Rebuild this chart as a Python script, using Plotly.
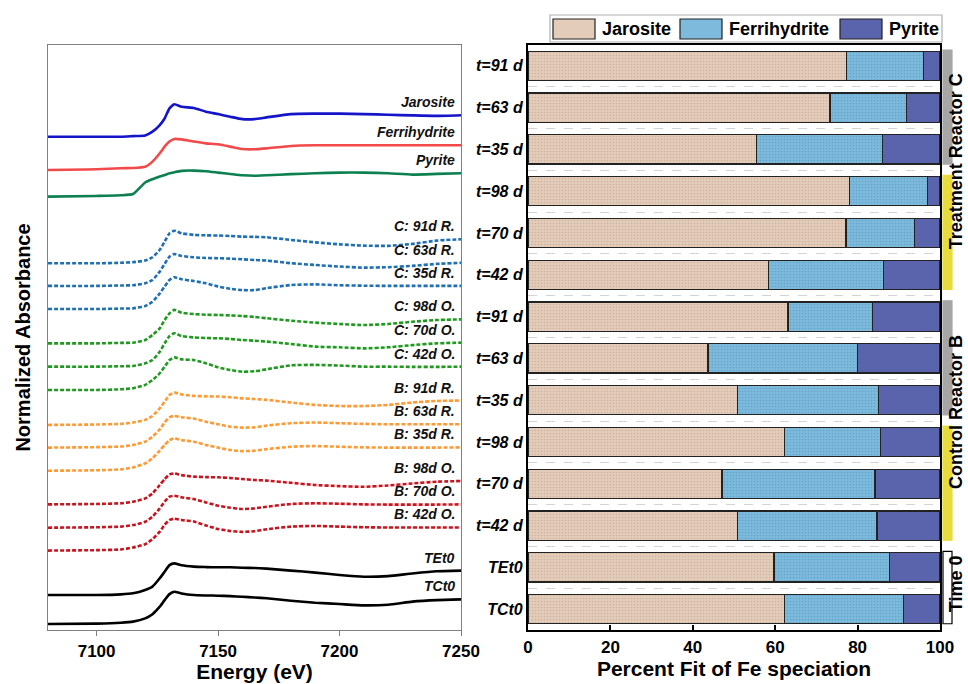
import plotly.graph_objects as go

# ---------------- XANES spectra (left panel) ----------------
energy = [7080, 7100, 7110, 7115, 7120, 7123, 7126, 7128, 7130, 7132, 7135, 7140, 7145,
          7150, 7155, 7160, 7165, 7170, 7180, 7190, 7200, 7210, 7220, 7230, 7240, 7250]

mu_jarosite = [0, 0, 0, 0.03, 0.06, 0.23, 0.53, 0.83, 1.29, 1.48, 1.36, 1.31, 1.14,
               1.03, 0.91, 0.80, 0.80, 0.88, 1.03, 1.05, 1.05, 1.03, 1.00, 0.97, 0.95, 0.98]
mu_ferrihydrite = [0, 0.03, 0.08, 0.09, 0.15, 0.38, 0.76, 1.06, 1.29, 1.41, 1.39, 1.29, 1.21,
                   1.17, 1.06, 0.95, 0.94, 0.98, 1.09, 1.12, 1.12, 1.12, 1.12, 1.12, 1.12, 1.12]
mu_pyrite = [0, 0.03, 0.06, 0.12, 0.64, 0.79, 0.91, 0.98, 1.06, 1.11, 1.17, 1.18, 1.15,
             1.09, 1.03, 0.97, 0.95, 0.97, 1.02, 1.06, 1.09, 1.09, 1.06, 1.00, 1.03, 1.06]
mu_c91r = [0, 0, 0.02, 0.05, 0.12, 0.27, 0.61, 0.98, 1.36, 1.48, 1.36, 1.29, 1.27,
           1.26, 1.24, 1.21, 1.20, 1.18, 1.06, 0.95, 0.86, 0.80, 0.79, 0.88, 1.03, 1.09]
mu_c63r = [0, 0, 0.02, 0.03, 0.12, 0.27, 0.65, 1.00, 1.33, 1.45, 1.36, 1.30, 1.27,
           1.26, 1.24, 1.21, 1.18, 1.15, 1.03, 0.95, 0.88, 0.83, 0.85, 0.91, 1.00, 1.05]
mu_c35r = [0, 0, 0.02, 0.03, 0.14, 0.33, 0.71, 1.02, 1.32, 1.44, 1.35, 1.27, 1.17,
           1.02, 0.92, 0.86, 0.86, 0.95, 1.09, 1.12, 1.08, 1.06, 1.05, 1.05, 1.05, 1.05]
mu_c98o = [0, 0, 0.02, 0.03, 0.15, 0.38, 0.68, 1.06, 1.36, 1.52, 1.39, 1.33, 1.30,
           1.29, 1.27, 1.24, 1.20, 1.14, 1.03, 0.94, 0.88, 0.83, 0.88, 0.98, 1.06, 1.09]
mu_c70o = [0, 0, 0.02, 0.03, 0.15, 0.30, 0.68, 1.06, 1.39, 1.52, 1.39, 1.33, 1.30,
           1.29, 1.26, 1.21, 1.18, 1.14, 1.03, 0.91, 0.88, 0.83, 0.88, 0.98, 1.06, 1.09]
mu_c42o = [0, 0, 0.03, 0.08, 0.23, 0.45, 0.76, 1.06, 1.36, 1.48, 1.39, 1.36, 1.21,
           1.03, 0.91, 0.83, 0.85, 0.94, 1.12, 1.14, 1.11, 1.06, 1.06, 1.05, 1.05, 1.06]
mu_b91r = [0, 0.02, 0.05, 0.11, 0.23, 0.41, 0.76, 1.06, 1.36, 1.47, 1.39, 1.32, 1.30,
           1.29, 1.26, 1.21, 1.18, 1.14, 1.02, 0.91, 0.86, 0.86, 0.91, 1.02, 1.09, 1.11]
mu_b63r = [0, 0.02, 0.05, 0.12, 0.27, 0.50, 0.83, 1.14, 1.38, 1.44, 1.38, 1.32, 1.18,
           1.06, 0.95, 0.91, 0.92, 1.00, 1.11, 1.14, 1.11, 1.08, 1.06, 1.06, 1.06, 1.06]
mu_b35r = [0, 0.02, 0.06, 0.15, 0.33, 0.56, 0.91, 1.17, 1.39, 1.47, 1.39, 1.32, 1.17,
           1.05, 0.94, 0.89, 0.91, 0.98, 1.09, 1.12, 1.09, 1.06, 1.05, 1.05, 1.05, 1.06]
mu_b98o = [0, 0.02, 0.05, 0.12, 0.27, 0.50, 0.88, 1.14, 1.36, 1.41, 1.33, 1.26, 1.24,
           1.23, 1.20, 1.15, 1.11, 1.08, 0.98, 0.88, 0.83, 0.80, 0.86, 0.95, 1.03, 1.06]
mu_b70o = [0, 0.02, 0.05, 0.12, 0.27, 0.50, 0.88, 1.18, 1.41, 1.45, 1.38, 1.30, 1.15,
           1.00, 0.91, 0.85, 0.88, 0.95, 1.08, 1.11, 1.09, 1.06, 1.05, 1.05, 1.05, 1.06]
mu_b42o = [0, 0.02, 0.05, 0.14, 0.29, 0.52, 0.86, 1.17, 1.39, 1.45, 1.39, 1.32, 1.14,
           0.98, 0.89, 0.85, 0.88, 0.97, 1.09, 1.12, 1.09, 1.06, 1.05, 1.05, 1.05, 1.05]
mu_tet0 = [0, 0, 0.03, 0.08, 0.23, 0.38, 0.76, 1.06, 1.36, 1.44, 1.35, 1.29, 1.27,
           1.26, 1.26, 1.24, 1.23, 1.20, 1.11, 1.02, 0.91, 0.83, 0.86, 0.98, 1.08, 1.11]
mu_tct0 = [0, 0.02, 0.06, 0.11, 0.26, 0.45, 0.79, 1.09, 1.36, 1.47, 1.39, 1.32, 1.30,
           1.29, 1.27, 1.24, 1.21, 1.17, 1.06, 0.97, 0.91, 0.85, 0.88, 1.02, 1.09, 1.12]

spectra_labels = ["Jarosite", "Ferrihydrite", "Pyrite",
                  "C: 91d R.", "C: 63d R.", "C: 35d R.",
                  "C: 98d O.", "C: 70d O.", "C: 42d O.",
                  "B: 91d R.", "B: 63d R.", "B: 35d R.",
                  "B: 98d O.", "B: 70d O.", "B: 42d O.",
                  "TEt0", "TCt0"]
spectra_offsets = [22.42, 20.91, 19.70, 16.67, 15.64, 14.59, 13.03, 11.97, 10.91,
                   9.32, 8.29, 7.24, 5.71, 4.65, 3.61, 1.59, 0.27]
spectra_mu = [mu_jarosite, mu_ferrihydrite, mu_pyrite, mu_c91r, mu_c63r, mu_c35r,
              mu_c98o, mu_c70o, mu_c42o, mu_b91r, mu_b63r, mu_b35r,
              mu_b98o, mu_b70o, mu_b42o, mu_tet0, mu_tct0]

# ---------------- Linear combination fit (right panel) ----------------
sample_labels = ["t=91 d", "t=63 d", "t=35 d", "t=98 d", "t=70 d", "t=42 d",
                 "t=91 d", "t=63 d", "t=35 d", "t=98 d", "t=70 d", "t=42 d",
                 "TEt0", "TCt0"]
jarosite_pct = [77.4, 73.3, 55.4, 78.1, 77.2, 58.4, 63.1, 43.7, 50.8, 62.3, 47.1, 50.8, 59.7, 62.3]
ferrihydrite_pct = [18.6, 18.5, 30.7, 18.9, 16.6, 27.9, 20.5, 36.3, 34.3, 23.3, 37.1, 33.9, 28.0, 28.9]
pyrite_pct = [4.0, 8.2, 13.9, 3.0, 6.2, 13.7, 16.4, 20.0, 14.9, 14.4, 15.8, 15.3, 12.3, 8.8]

group_names = ["Treatment Reactor C", "Control Reactor B", "Time 0"]
group_ranges = [(0, 5), (6, 11), (12, 13)]
subgroup_ranges = [(0, 2), (3, 5), (6, 8), (9, 11), (12, 13)]

# ---------------- styles ----------------
FONT = "Liberation Sans, Arial, sans-serif"
W, H = 968, 684
blue_c, red_c, green_c = "#1414c8", "#f24a4a", "#0d8050"
cr_c, co_c, br_c, bo_c = "#1f6fb5", "#1f9a1f", "#ff9933", "#c8141e"
curve_styles = ([(blue_c, "solid"), (red_c, "solid"), (green_c, "solid")]
                + [(cr_c, "4px,2px")] * 3 + [(co_c, "4px,2px")] * 3
                + [(br_c, "4px,2px")] * 3 + [(bo_c, "4px,2px")] * 3
                + [("#000000", "solid")] * 2)
sub_colors = ["#a6a6a6", "#e8dc3c", "#a6a6a6", "#e8dc3c", "#ffffff"]
jar_col, fer_col, pyr_col = "#e4ccba", "#7dbadc", "#5a64ad"


def px(x):
    return x / W


def py(y):
    return 1 - y / H


fig = go.Figure()

annotations = []
for lab, off, mu, (col, dash) in zip(spectra_labels, spectra_offsets, spectra_mu, curve_styles):
    yv = [off + m for m in mu]
    fig.add_trace(go.Scatter(x=energy, y=yv, mode="lines", xaxis="x", yaxis="y",
                             line=dict(color=col, width=2.6, dash=dash, shape="spline", smoothing=0.5),
                             showlegend=False, hoverinfo="skip"))
    annotations.append(dict(x=energy[-1], y=yv[-1], xref="x", yref="y", text=lab,
                            showarrow=False, xanchor="right", yanchor="middle",
                            xshift=-4, yshift=13,
                            font=dict(family=FONT, size=14, color="#111", weight="bold", style="italic")))

ypos = list(range(len(sample_labels)))
for name, vals, col, fg in [("Jarosite", jarosite_pct, jar_col, "#b89c88"),
                            ("Ferrihydrite", ferrihydrite_pct, fer_col, "#4d8fb8"),
                            ("Pyrite", pyrite_pct, pyr_col, "#4a549d")]:
    fig.add_trace(go.Bar(x=vals, y=ypos, orientation="h", name=name, xaxis="x2", yaxis="y2",
                         width=0.7,
                         marker=dict(color=col, line=dict(color="#222", width=1.2),
                                     pattern=dict(shape="." if name != "Pyrite" else "",
                                                  size=3, solidity=0.25, fgcolor=fg,
                                                  fillmode="overlay")),
                         showlegend=False, hoverinfo="skip"))

shapes = []
# bracket bars to the right of the bar panel
for (a, b), c in zip(subgroup_ranges, sub_colors):
    shapes.append(dict(type="rect", xref="paper", yref="y2", x0=px(943), x1=px(952),
                       y0=a - 0.38, y1=b + 0.35, fillcolor=c,
                       line=dict(color="#000" if c == "#ffffff" else c, width=1.2)))
for name, (a, b) in zip(group_names, group_ranges):
    annotations.append(dict(x=px(967), y=(a + b) / 2, xref="paper", yref="y2", text=name,
                            textangle=-90, showarrow=False, xanchor="right", yanchor="middle",
                            yshift=9 if b - a > 2 else 4, borderpad=0,
                            font=dict(family=FONT, size=18, color="#000", weight="bold")))

# legend drawn above the bar panel
shapes.append(dict(type="rect", xref="paper", yref="paper", x0=px(550), x1=px(942),
                   y0=py(42), y1=py(15), line=dict(color="#b0b0b0", width=1.2), fillcolor="#fff"))
for name, col, x0, tx in [("Jarosite", jar_col, 553, 600), ("Ferrihydrite", fer_col, 680, 727),
                          ("Pyrite", pyr_col, 840, 887)]:
    shapes.append(dict(type="rect", xref="paper", yref="paper", x0=px(x0), x1=px(x0 + 42),
                       y0=py(39), y1=py(19), fillcolor=col, line=dict(color="#222", width=1.2)))
    annotations.append(dict(x=px(tx), y=py(29), xref="paper", yref="paper", text=name,
                            showarrow=False, xanchor="left", yanchor="middle",
                            font=dict(family=FONT, size=18, color="#000", weight="bold")))

fig.update_layout(
    width=W, height=H, margin=dict(l=0, r=0, t=0, b=0, autoexpand=False),
    autosize=False,
    paper_bgcolor="white", plot_bgcolor="white",
    barmode="stack", bargap=0.3,
    font=dict(family=FONT, color="#000"),
    xaxis=dict(domain=[px(48), px(461)], range=[7080, 7250], tickvals=[7100, 7150, 7200, 7250],
               ticks="outside", ticklen=5, tickcolor="#808080", showline=True, linecolor="#808080",
               linewidth=1.2, mirror=True, showgrid=False, zeroline=False, automargin=False,
               tickfont=dict(family=FONT, size=17, weight="bold"),
               title=dict(text="Energy (eV)", font=dict(family=FONT, size=21, weight="bold"), standoff=4)),
    yaxis=dict(domain=[py(630), py(45)], range=[0, 26.59], showticklabels=False, ticks="",
               showline=True, linecolor="#808080", linewidth=1.2, mirror=True, showgrid=False,
               zeroline=False, automargin=False,
               title=dict(text="Normalized Absorbance", font=dict(family=FONT, size=20, weight="bold"),
                          standoff=10)),
    xaxis2=dict(domain=[px(528), px(940)], range=[0, 100], tickvals=[0, 20, 40, 60, 80, 100],
                anchor="y2", ticks="inside", ticklen=5, tickcolor="#000", tickwidth=1.5,
                showline=True, linecolor="#000", linewidth=2.2, mirror=True, showgrid=False,
                zeroline=False, automargin=False, tickfont=dict(family=FONT, size=17, weight="bold"),
                title=dict(text="Percent Fit of Fe speciation",
                           font=dict(family=FONT, size=21, weight="bold"), standoff=6)),
    yaxis2=dict(domain=[py(630), py(45)], range=[len(sample_labels) - 0.5, -0.5], anchor="x2",
                tickvals=ypos, ticktext=sample_labels, ticks="", showline=True, linecolor="#000",
                linewidth=2.2, mirror=True, showgrid=False, zeroline=False, automargin=False,
                tickfont=dict(family=FONT, size=16, weight="bold", style="italic"),
                minor=dict(tickvals=[i + 0.5 for i in ypos[:-1]], showgrid=True, gridcolor="#d4d4d4",
                           griddash="dash", gridwidth=1, ticks="")),
    shapes=shapes, annotations=annotations,
)

fig.write_html(
    "out.html",
    config={"responsive": False, "displayModeBar": False},
    post_script=("document.body.style.margin='0';document.body.style.overflow='hidden';"
                 "var gd=document.getElementById('{plot_id}');"
                 "Plotly.relayout(gd,{width:968,height:684});"),
)
